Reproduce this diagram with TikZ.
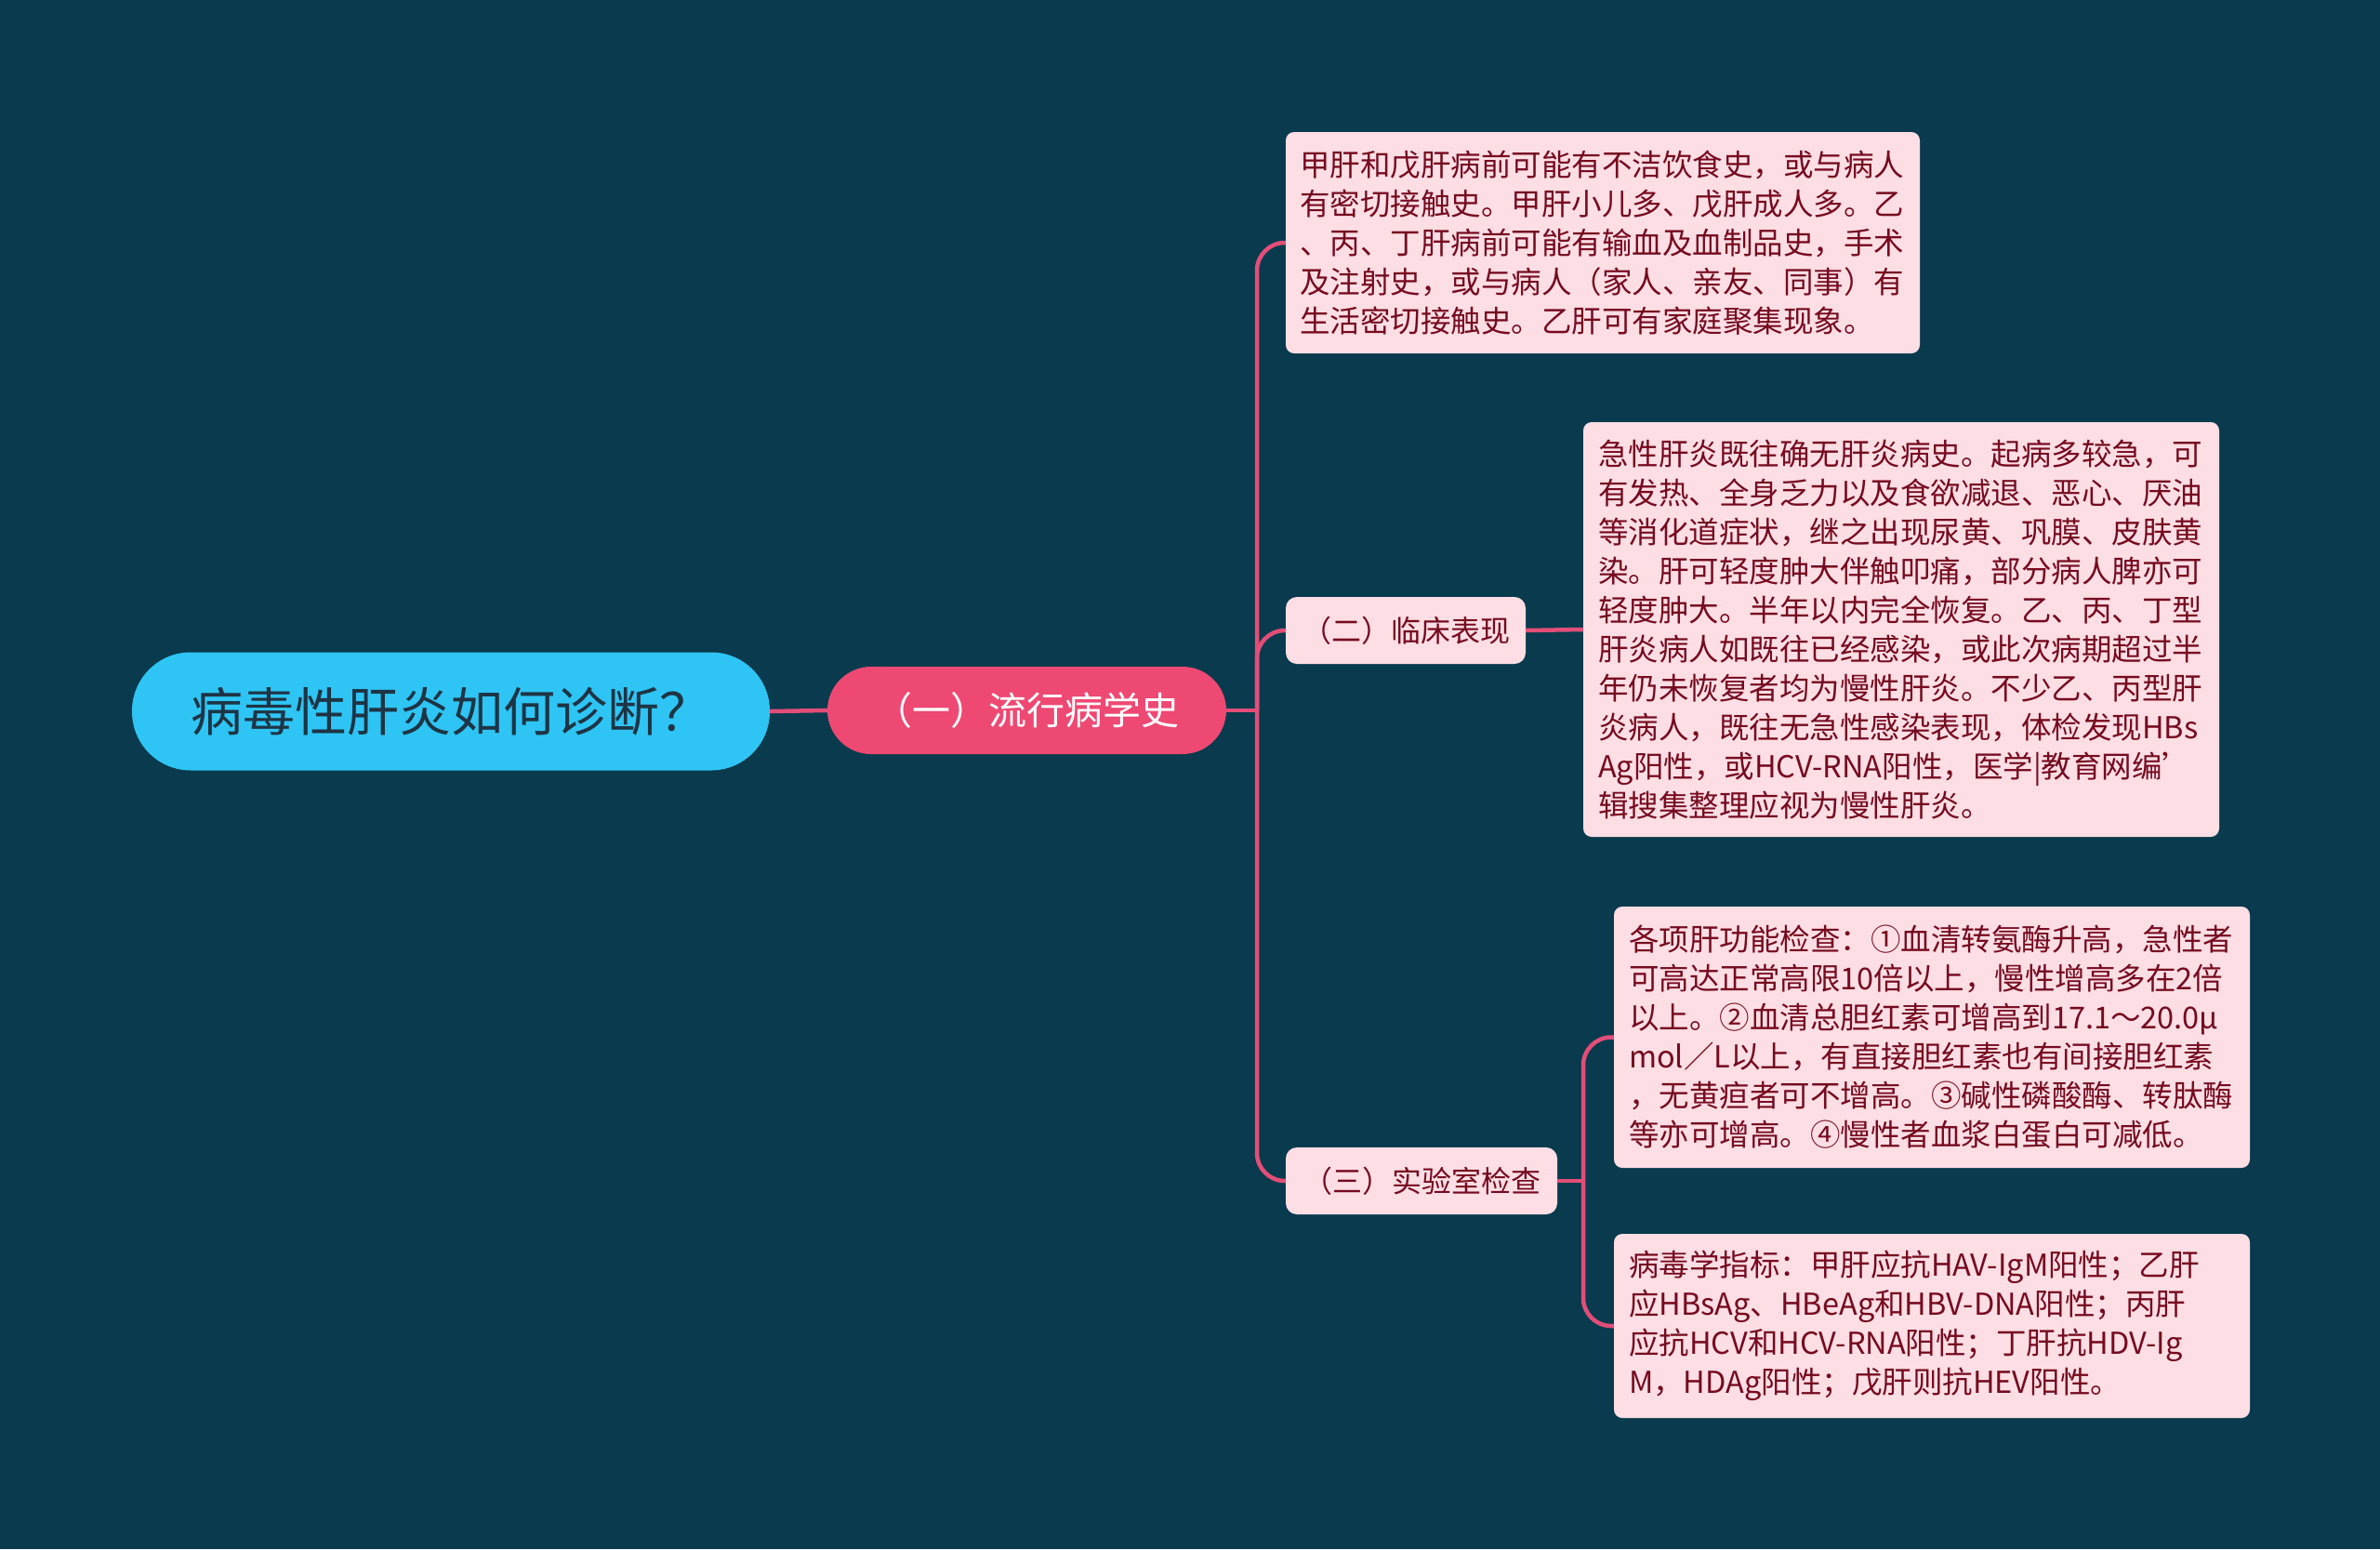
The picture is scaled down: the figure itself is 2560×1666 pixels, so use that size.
\documentclass[tikz,border=0pt]{standalone}
\usepackage{fontspec}
\setmainfont{Noto Sans CJK SC}
\definecolor{bgc}{RGB}{9,58,77}
\definecolor{leafc}{RGB}{252,222,228}
\definecolor{leaftext}{RGB}{118,10,32}
\definecolor{rootc}{RGB}{46,197,244}
\definecolor{roottext}{RGB}{30,52,68}
\definecolor{n1c}{RGB}{238,73,115}
\definecolor{linec}{RGB}{226,78,120}
\begin{document}
\begin{tikzpicture}[x=1pt,y=-1pt,
  leaf/.style={fill=leafc, rounded corners=9pt, text=leaftext, align=left, text width=652pt,
    font=\fontsize{32.5}{42}\selectfont, inner sep=0pt, anchor=center},
  mid/.style={fill=leafc, rounded corners=12pt, text=leaftext,
    font=\fontsize{32}{38}\selectfont, inner sep=0pt, anchor=center},
  conn/.style={draw=linec, line width=4.5pt}]
\fill[bgc] (0,0) rectangle (2560,1666);
\useasboundingbox (0,0) rectangle (2560,1666);

\node[fill=rootc, rounded corners=63pt, minimum width=686pt, minimum height=127pt,
  inner sep=0pt, text=roottext, font=\fontsize{56}{62}\selectfont] (root) at (485,765) {病毒性肝炎如何诊断？};

\node[fill=n1c, rounded corners=47pt, minimum width=429pt, minimum height=94pt,
  inner sep=0pt, text=white, font=\fontsize{41}{46}\selectfont] (n1) at (1104.5,764) {（一）流行病学史};

\node[mid, minimum width=258pt, minimum height=72pt] (m2) at (1512,678) {（二）临床表现};
\node[mid, minimum width=292pt, minimum height=72pt] (m3) at (1529,1270) {（三）实验室检查};

\node[leaf, minimum width=682pt, minimum height=238pt] (b1) at (1724,261) {甲肝和戊肝病前可能有不洁饮食史，或与病人\\有密切接触史。甲肝小儿多、戊肝成人多。乙\\、丙、丁肝病前可能有输血及血制品史，手术\\及注射史，或与病人（家人、亲友、同事）有\\生活密切接触史。乙肝可有家庭聚集现象。};

\node[leaf, minimum width=684pt, minimum height=446pt] (b2) at (2045,677) {急性肝炎既往确无肝炎病史。起病多较急，可\\有发热、全身乏力以及食欲减退、恶心、厌油\\等消化道症状，继之出现尿黄、巩膜、皮肤黄\\染。肝可轻度肿大伴触叩痛，部分病人脾亦可\\轻度肿大。半年以内完全恢复。乙、丙、丁型\\肝炎病人如既往已经感染，或此次病期超过半\\年仍未恢复者均为慢性肝炎。不少乙、丙型肝\\炎病人，既往无急性感染表现，体检发现HBs\\Ag阳性，或HCV-RNA阳性，医学|教育网编'\\辑搜集整理应视为慢性肝炎。};

\node[leaf, minimum width=684pt, minimum height=281pt] (b3) at (2078,1115.5) {各项肝功能检查：①血清转氨酶升高，急性者\\可高达正常高限10倍以上，慢性增高多在2倍\\以上。②血清总胆红素可增高到17.1～20.0μ\\mol／L以上，有直接胆红素也有间接胆红素\\，无黄疸者可不增高。③碱性磷酸酶、转肽酶\\等亦可增高。④慢性者血浆白蛋白可减低。};

\node[leaf, minimum width=684pt, minimum height=198pt] (b4) at (2078,1426) {病毒学指标：甲肝应抗HAV-IgM阳性；乙肝\\应HBsAg、HBeAg和HBV-DNA阳性；丙肝\\应抗HCV和HCV-RNA阳性；丁肝抗HDV-Ig\\M，HDAg阳性；戊肝则抗HEV阳性。};

\coordinate (t1) at (1352,764);
\coordinate (t2) at (1703,1270);

\draw[conn] (root.east) -- (n1.west);
\draw[conn] (n1.east) -- (t1);
\draw[conn, rounded corners=30pt] (t1) |- (b1.west);
\draw[conn, rounded corners=30pt] (t1) |- (m2.west);
\draw[conn, rounded corners=30pt] (t1) |- (m3.west);
\draw[conn] (m2.east) -- (b2.west);
\draw[conn] (m3.east) -- (t2);
\draw[conn, rounded corners=30pt] (t2) |- (b3.west);
\draw[conn, rounded corners=30pt] (t2) |- (b4.west);
\end{tikzpicture}
\end{document}
